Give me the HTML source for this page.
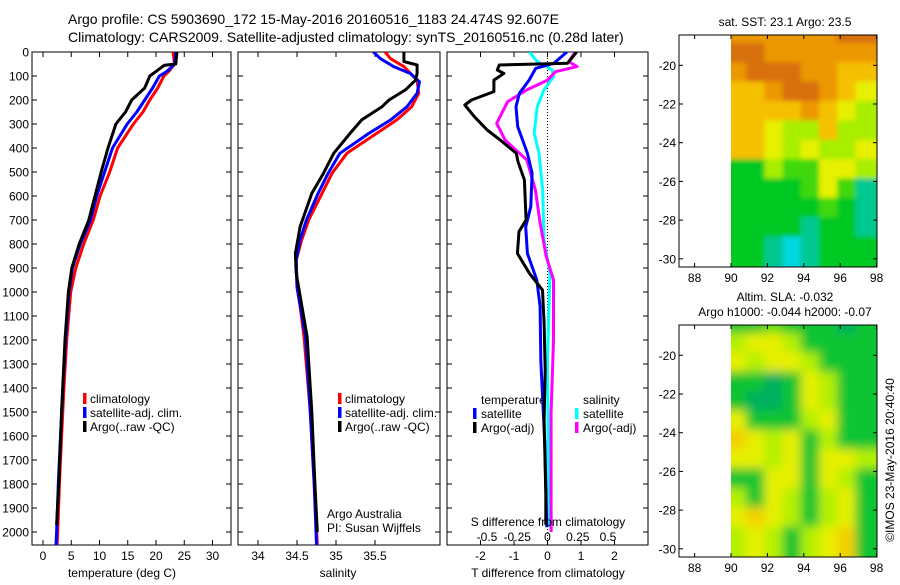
<!DOCTYPE html>
<html><head><meta charset="utf-8">
<style>
body{margin:0;background:#fff;width:900px;height:580px;overflow:hidden;font-family:"Liberation Sans",sans-serif}
svg text{font-family:"Liberation Sans",sans-serif;fill:#000}
</style></head><body>
<svg id="c" width="900" height="580" viewBox="0 0 900 580">
<defs>
<clipPath id="cp1"><rect x="32" y="52" width="199" height="493"/></clipPath>
<clipPath id="cp2"><rect x="238" y="52" width="202" height="493"/></clipPath>
<clipPath id="cp3"><rect x="447" y="52" width="201" height="493"/></clipPath>
<clipPath id="cm1"><rect x="731" y="35" width="146" height="232"/></clipPath>
<clipPath id="cm2"><rect x="731" y="325" width="146" height="232"/></clipPath>
<filter id="bl" x="-20%" y="-20%" width="140%" height="140%"><feGaussianBlur stdDeviation="5"/></filter>
<filter id="bl2" x="-20%" y="-20%" width="140%" height="140%"><feGaussianBlur stdDeviation="2.5"/></filter>
</defs>
<text x="68" y="24" font-size="14">Argo profile: CS 5903690_172 15-May-2016 20160516_1183 24.474S 92.607E</text>
<text x="68" y="42" font-size="14">Climatology: CARS2009. Satellite-adjusted climatology: synTS_20160516.nc (0.28d later)</text>
</svg>
<script>
// ---------- data ----------
const depthTicks=[0,100,200,300,400,500,600,700,800,900,1000,1100,1200,1300,1400,1500,1600,1700,1800,1900,2000];
const tempTicks=[0,5,10,15,20,25,30];
const salTicks=[34,34.5,35,35.5];
const tdiffTicks=[-2,-1,0,1,2];
const sdiffTicks=[-0.5,-0.25,0,0.25,0.5];
const sdiffLabels=["-0.5","-0.25","0","0.25","0.5"];

const tClimDepth=[0,50,80,100,150,200,250,300,350,400,500,600,700,800,900,1000,1200,1400,1600,1800,2000,2054];
const tClimVal=[23.0,23.3,22.3,21.4,20.3,18.9,17.7,16.0,14.6,13.2,11.8,10.1,8.9,7.2,5.8,4.9,4.2,3.7,3.3,2.9,2.6,2.5];
const tSatDepth=[0,50,80,100,150,200,250,300,400,500,600,700,800,900,1000,1200,1400,1600,1800,2000,2054];
const tSatVal=[23.5,23.3,22.0,20.6,19.4,18.0,16.6,14.9,12.3,10.9,9.5,8.4,6.6,5.2,4.6,4.0,3.5,3.1,2.7,2.4,2.3];
const tArgoDepth=[0,50,55,100,150,200,250,300,400,500,600,700,800,900,1000,1200,1500,1800,1970];
const tArgoVal=[23.7,23.5,21.5,18.9,18.0,15.7,14.6,12.9,11.5,10.3,9.2,8.1,6.4,5.1,4.5,3.9,3.3,2.8,2.4];

const sClimDepth=[0,28,61,117,172,228,283,339,422,505,589,700,783,867,978,1061,1186,1500,1800,2054];
const sClimVal=[35.63,35.70,35.87,36.04,36.06,35.97,35.78,35.52,35.14,34.95,34.82,34.65,34.56,34.49,34.50,34.54,34.59,34.67,34.72,34.76];
const sSatDepth=[0,28,61,89,124,172,228,283,339,422,505,589,700,783,867,978,1186,1500,1800,2054];
const sSatVal=[35.48,35.57,35.74,35.95,36.07,36.04,35.91,35.70,35.42,35.05,34.90,34.77,34.62,34.54,34.49,34.50,34.61,34.67,34.72,34.75];
const sArgoDepth=[0,40,54,89,117,158,200,228,283,339,422,505,589,728,839,922,1186,1500,1800,2000];
const sArgoVal=[35.87,35.87,36.04,36.04,36.02,35.89,35.68,35.59,35.33,35.18,34.97,34.84,34.69,34.54,34.48,34.49,34.63,34.69,34.73,34.76];

const dTArgoDepth=[0,47,54,75,89,117,165,200,221,270,325,367,422,457,533,700,748,839,922,992,1130,1325,1533,1838,1970];
const dTArgoVal=[0.87,0.6,-1.44,-1.5,-1.3,-1.6,-1.6,-2.27,-2.47,-2.18,-1.8,-1.41,-0.93,-0.88,-0.69,-0.64,-0.85,-0.9,-0.54,-0.15,-0.1,-0.07,-0.1,-0.05,-0.05];
const dTSatDepth=[0,47,68,117,172,228,311,422,505,644,728,839,950,1061,1283,1630,1980];
const dTSatVal=[0.58,0.19,-0.35,-0.55,-0.84,-0.94,-0.89,-0.6,-0.46,-0.5,-0.65,-0.6,-0.32,-0.22,-0.2,-0.08,-0.02];
const dSArgoDepth=[0,40,61,82,117,158,207,297,367,450,575,714,853,950,1200,1500,2000];
const dSArgoVal=[0.23,0.176,0.245,0.066,0,-0.17,-0.33,-0.42,-0.35,-0.17,-0.1,-0.06,-0.01,0.05,0.05,0.03,0.03];
const dSSatDepth=[0,40,75,103,158,228,339,422,575,783,922,1283,1630,1980];
const dSSatVal=[-0.15,-0.085,0.04,0.05,-0.03,-0.085,-0.11,-0.07,-0.04,-0.03,0.02,0.0,0.005,0.01];

const mapLonTicks=[88,90,92,94,96,98];
const mapLatTicks=[-20,-22,-24,-26,-28,-30];
const sstRows=["ooooooOO","OOooooooy","oOOOooyy","yyoOOoyY","yyyyoyYl","yyYllyll","yyYlYllY","GGlggYYl","GGGGgYgt","GGGGGgGt","GGGGtGGt","GGtctGGG"];
const slaRows=["GGgGGGtG","lYYlGGGG","YlYYlGGG","GGtGYlGG","GttGYlGG","YGGGlYGG","yYlYGlGG","YYlYGYYl","GGYYGYlG","lGYlGlYG","YyYlGlYG","lYlGlYyG"];

// ---------- helpers ----------
const NS="http://www.w3.org/2000/svg";
const svg=document.getElementById('c');
function mk(tag,attrs,parent){const e=document.createElementNS(NS,tag);for(const k in attrs)e.setAttribute(k,attrs[k]);(parent||svg).appendChild(e);return e;}
const yD=d=>52+d*0.24;
const xT=t=>43+t*5.65;
const xS=s=>336+(s-35)*78;
const xDT=d=>547.5+d*33.5;
const xDS=s=>547.5+s*121;

function frame(x0,x1,y0,y1,name){
  const r=mk('rect',{x:x0,y:y0,width:x1-x0,height:y1-y0,fill:'none',stroke:'#000','stroke-width':1});
  
  
}
function yticks(x0,x1,labels){
  depthTicks.forEach(d=>{
    const y=yD(d);
    mk('line',{x1:x0,y1:y,x2:x0+5,y2:y,stroke:'#000'});
    mk('line',{x1:x1,y1:y,x2:x1-5,y2:y,stroke:'#000'});
    if(labels){const t=mk('text',{x:x0-3,y:y+4.5,'font-size':12,'text-anchor':'end'});t.textContent=d;
      
      }
  });
}
function xticks(vals,fx,labs,y0,y1,ly){
  vals.forEach((v,i)=>{
    const x=fx(v);
    mk('line',{x1:x,y1:y1,x2:x,y2:y1-5,stroke:'#000'});
    mk('line',{x1:x,y1:y0,x2:x,y2:y0+5,stroke:'#000'});
    if(ly){const t=mk('text',{x:x,y:ly,'font-size':12,'text-anchor':'middle'});t.textContent=labs?labs[i]:v;
      
      }
  });
}
function line(ds,vs,fx,color,clip,name){
  const pts=ds.map((d,i)=>fx(vs[i]).toFixed(1)+','+yD(d).toFixed(1)).join(' ');
  const p=mk('polyline',{points:pts,fill:'none',stroke:color,'stroke-width':3,'stroke-linejoin':'round','clip-path':'url(#'+clip+')'});
  
  
}
function txt(x,y,s,size,anchor,name){
  const t=mk('text',{x:x,y:y,'font-size':size||12,'text-anchor':anchor||'start'});t.textContent=s;
  
  
  return t;
}
function legMark(x,y,color){mk('rect',{x:x,y:y-10,width:3.5,height:11,fill:color});}

// ---------- panel 1: temperature ----------
frame(32,231,52,545,'temperature-panel');
yticks(32,231,true);
xticks(tempTicks,xT,null,52,545,560);
line(tClimDepth,tClimVal,xT,'#ff0000','cp1','temp-climatology-line');
line(tSatDepth,tSatVal,xT,'#0000ff','cp1','temp-satellite-line');
line(tArgoDepth,tArgoVal,xT,'#000000','cp1','temp-argo-line');
txt(122,577,'temperature (deg C)',12,'middle','temperature-axis-title');
legMark(83,403,'#ff0000');txt(90,403,'climatology',12,'start','legend-climatology');
legMark(83,417,'#0000ff');txt(90,417,'satellite-adj. clim.',12,'start','legend-satellite-adj');
legMark(83,431,'#000');txt(90,431,'Argo(..raw -QC)',12,'start','legend-argo');

// ---------- panel 2: salinity ----------
frame(238,440,52,545,'salinity-panel');
yticks(238,440,false);
xticks(salTicks,xS,null,52,545,560);
line(sClimDepth,sClimVal,xS,'#ff0000','cp2','sal-climatology-line');
line(sSatDepth,sSatVal,xS,'#0000ff','cp2','sal-satellite-line');
line(sArgoDepth,sArgoVal,xS,'#000000','cp2','sal-argo-line');
txt(338,577,'salinity',12,'middle','salinity-axis-title');
legMark(338,403,'#ff0000');txt(345,403,'climatology',12,'start','legend2-climatology');
legMark(338,417,'#0000ff');txt(345,417,'satellite-adj. clim.',12,'start','legend2-satellite-adj');
legMark(338,431,'#000');txt(345,431,'Argo(..raw -QC)',12,'start','legend2-argo');
txt(327,518,'Argo Australia',12,'start','credit-argo-australia');
txt(327,532,'PI: Susan Wijffels',12,'start','credit-pi');

// ---------- panel 3: differences ----------
frame(447,648,52,545,'difference-panel');
yticks(447,648,false);
xticks(tdiffTicks,xDT,null,52,545,560);
mk('line',{x1:547.5,y1:52,x2:547.5,y2:545,stroke:'#000','stroke-width':1,'stroke-dasharray':'1,2'});
line(dSSatDepth,dSSatVal,xDS,'#00ffff','cp3','sdiff-satellite-line');
line(dSArgoDepth,dSArgoVal,xDS,'#ff00ff','cp3','sdiff-argo-line');
line(dTSatDepth,dTSatVal,xDT,'#0000ff','cp3','tdiff-satellite-line');
line(dTArgoDepth,dTArgoVal,xDT,'#000000','cp3','tdiff-argo-line');
sdiffTicks.forEach((v,i)=>{txt(xDS(v),541,sdiffLabels[i],12,'middle','s-diff-tick-label');});
txt(548,526,'S difference from climatology',12,'middle','s-diff-axis-title');
txt(548,577,'T difference from climatology',12,'middle','t-diff-axis-title');
txt(481,404,'temperature',12,'start','legend3-temperature-header');
txt(583,404,'salinity',12,'start','legend3-salinity-header');
legMark(473,418,'#0000ff');txt(481,418,'satellite',12,'start','legend3-t-satellite');
legMark(473,432,'#000');txt(481,432,'Argo(-adj)',12,'start','legend3-t-argo');
legMark(575,418,'#00ffff');txt(583,418,'satellite',12,'start','legend3-s-satellite');
legMark(575,432,'#ff00ff');txt(583,432,'Argo(-adj)',12,'start','legend3-s-argo');

// ---------- maps ----------
const pal={O:'#d8700a',o:'#ec9800',y:'#f5c000',Y:'#e6f000',l:'#a8ee00',g:'#40d810',G:'#00c820',t:'#00c890',c:'#00d8e0'};
const pal2={G:'#10c430',g:'#60dc18',l:'#b4f000',Y:'#e6f000',y:'#f4d000',t:'#00b060'};
const xLon=lon=>731+(lon-90)*18.2;
function drawMap(top,rows,palette,clip,filt,name){
  const yLat=lat=>top+30.3+(-20-lat)*19.35;
  const g=mk('g',{'clip-path':'url(#'+clip+')'});
  
  
  const inner=mk('g',{filter:'url(#'+filt+')'},g);
  rows.forEach((row,ri)=>{
    const lat=-18.5-ri;
    for(let ci=0;ci<8;ci++){
      const ch=row[ci]||row[row.length-1];
      let x=xLon(90+ci)-3,y=yLat(lat+0.5)-3,w=24.2,h=25.4;
      if(ci===0){x-=25;w+=25;}
      if(ci===7){w+=25;}
      if(ri===0){y-=30;h+=30;}
      if(ri===rows.length-1){h+=30;}
      mk('rect',{x:x,y:y,width:w,height:h,fill:palette[ch]},inner);
    }
  });
  mk('rect',{x:679,y:top,width:198,height:232,fill:'none',stroke:'#000'});
  mapLonTicks.forEach(l=>{const x=xLon(l);mk('line',{x1:x,y1:top,x2:x,y2:top+4,stroke:'#000'});mk('line',{x1:x,y1:top+232,x2:x,y2:top+228,stroke:'#000'});
    txt(x,top+247,String(l),12,'middle','map-lon-label');});
  mapLatTicks.forEach(l=>{const y=yLat(l);mk('line',{x1:679,y1:y,x2:683,y2:y,stroke:'#000'});mk('line',{x1:877,y1:y,x2:873,y2:y,stroke:'#000'});
    txt(676,y+4.5,String(l),12,'end','map-lat-label');});
}
drawMap(35,sstRows,pal,'cm1','bl2','sst-map');
drawMap(325,slaRows,pal2,'cm2','bl','sla-map');
txt(785,26,'sat. SST: 23.1  Argo: 23.5',12,'middle','sst-map-title');
txt(785,301,'Altim. SLA: -0.032',12,'middle','sla-map-title');
txt(785,316,'Argo h1000: -0.044 h2000: -0.07',12,'middle','sla-map-subtitle');
const cr=txt(0,0,'©IMOS 23-May-2016 20:40:40',12,'middle','copyright-imos');
cr.setAttribute('transform','translate(894,460) rotate(-90)');
</script>
</body></html>
